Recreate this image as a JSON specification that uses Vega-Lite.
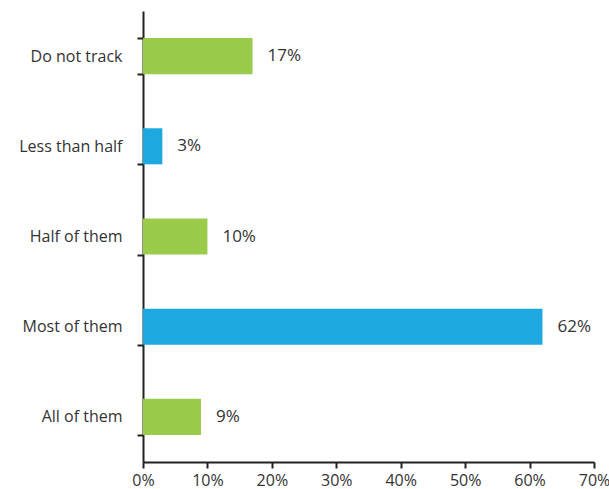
{
  "$schema": "https://vega.github.io/schema/vega-lite/v6.json",
  "width": 451,
  "height": 451,
  "autosize": {"type": "none"},
  "padding": {"left": 143, "top": 11, "right": 15, "bottom": 27},
  "background": "white",
  "config": {
    "view": {"stroke": null},
    "font": "Open Sans",
    "axis": {"labelFont": "Open Sans", "labelFontSize": 16, "labelColor": "#333333", "domainColor": "#222222", "domainWidth": 2, "tickColor": "#222222", "tickWidth": 2, "tickSize": 6, "grid": false, "title": null}
  },
  "data": {"values": [
    {"category": "Do not track", "value": 17},
    {"category": "Less than half", "value": 3},
    {"category": "Half of them", "value": 10},
    {"category": "Most of them", "value": 62},
    {"category": "All of them", "value": 9}
  ]},
  "encoding": {
    "y": {"field": "category", "type": "nominal", "sort": null,
      "scale": {"paddingInner": 0.6, "paddingOuter": 0.3},
      "axis": {"tickBand": "extent", "labelPadding": 15, "title": null}},
    "x": {"field": "value", "type": "quantitative",
      "scale": {"domain": [0, 70], "nice": false},
      "axis": {"values": [0, 10, 20, 30, 40, 50, 60, 70], "labelExpr": "datum.value + '%'", "labelPadding": 4, "title": null, "labelFlush": false}}
  },
  "layer": [
    {"mark": {"type": "bar"},
     "encoding": {"color": {"condition": {"test": "indexof(['Less than half','Most of them'], datum.category) >= 0", "value": "#1EA8E0"}, "value": "#9BCB4B"}}},
    {"transform": [{"calculate": "datum.value + '%'", "as": "label"}],
     "mark": {"type": "text", "align": "left", "dx": 15, "fontSize": 17, "color": "#333333", "font": "Open Sans"},
     "encoding": {"text": {"field": "label", "type": "nominal"}}}
  ]
}
